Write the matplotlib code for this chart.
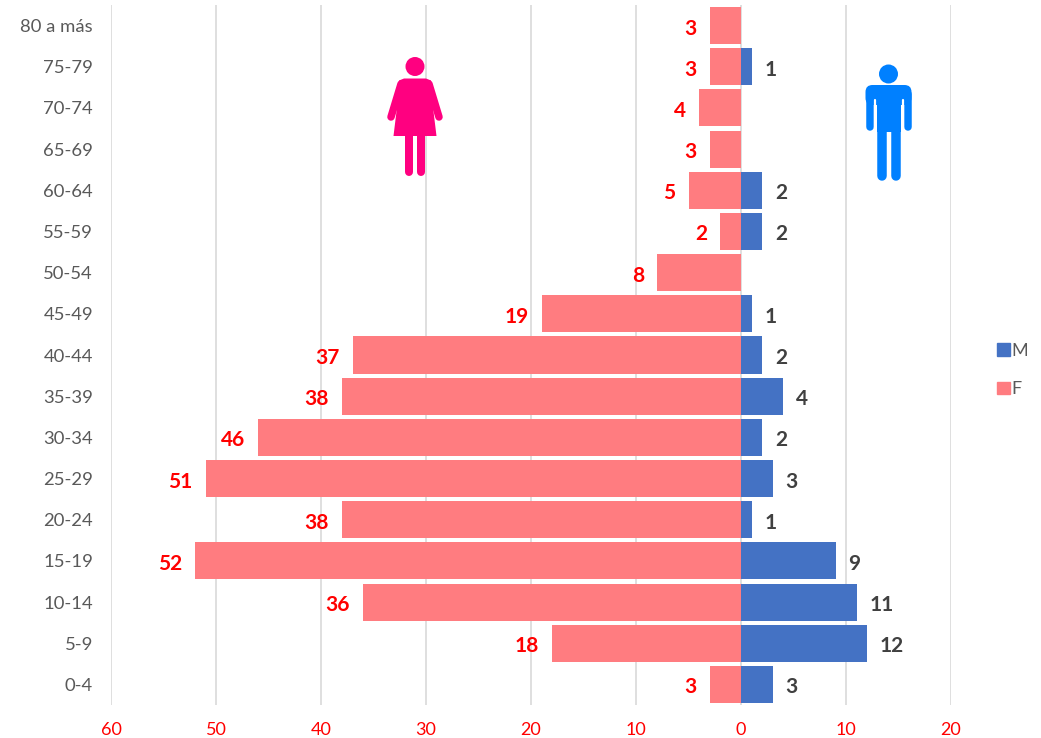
import matplotlib
matplotlib.use("Agg")
import matplotlib.pyplot as plt
from matplotlib.patches import Circle, Polygon, Patch, FancyBboxPatch

W, H = 1041, 738

grupos = ["0-4", "5-9", "10-14", "15-19", "20-24", "25-29", "30-34", "35-39", "40-44",
          "45-49", "50-54", "55-59", "60-64", "65-69", "70-74", "75-79", "80 a más"]
mujeres = [3, 18, 36, 52, 38, 51, 46, 38, 37, 19, 8, 2, 5, 3, 4, 3, 3]
hombres = [3, 12, 11, 9, 1, 3, 2, 4, 2, 1, 0, 2, 2, 0, 0, 1, 0]
x_ticks = [-60, -50, -40, -30, -20, -10, 0, 10, 20]
x_labels = ["60", "50", "40", "30", "20", "10", "0", "10", "20"]

color_f = "#ff7c80"
color_m = "#4472c4"
gris = "#595959"
rojo = "#ff0000"

plt.rcParams["font.family"] = ["Lato", "DejaVu Sans"]

fig = plt.figure(figsize=(W / 100, H / 100), dpi=100)
ax = fig.add_axes([111 / W, 1 - 705 / H, (951 - 111) / W, (705 - 5) / H])

ax.barh(grupos, [-v for v in mujeres], height=0.9, color=color_f, zorder=3)
ax.barh(grupos, hombres, height=0.9, color=color_m, zorder=3)

ax.set_xlim(-60, 20)
ax.set_ylim(-0.5, 16.5)
ax.set_xticks(x_ticks)
ax.set_xticklabels(x_labels, color=rojo, fontsize=13)
ax.tick_params(axis="x", length=0, pad=12)
ax.tick_params(axis="y", length=0, pad=13, labelsize=13.3, labelcolor=gris)
ax.grid(axis="x", color="#d9d9d9", linewidth=1.2, zorder=0)
for s in ax.spines.values():
    s.set_visible(False)

for i, v in enumerate(mujeres):
    ax.annotate(str(v), (-v, i), xytext=(-13, -3), textcoords="offset pixels",
                ha="right", va="center", color=rojo, fontsize=15, fontweight="bold")
for i, v in enumerate(hombres):
    if v > 0:
        ax.annotate(str(v), (v, i), xytext=(13, -3), textcoords="offset pixels",
                    ha="left", va="center", color="#404040", fontsize=15, fontweight="bold")

fig.legend(handles=[Patch(color=color_m, label="M"), Patch(color=color_f, label="F")],
           loc="center left", bbox_to_anchor=(981 / W, 1 - 370 / H), frameon=False,
           handlelength=0.68, handleheight=0.68, handletextpad=0.1, labelspacing=1.25,
           fontsize=13, labelcolor=gris)

# iconos en pixeles de la figura
ic = fig.add_axes([0, 0, 1, 1], facecolor="none")
ic.set_xlim(0, W)
ic.set_ylim(H, 0)
ic.axis("off")

def palo(xs, ys, ancho, color):
    ic.plot(xs, ys, color=color, linewidth=ancho * 0.72, solid_capstyle="round", solid_joinstyle="round")

rosa = "#ff0080"
ic.add_patch(Circle((415, 66.5), 9.5, color=rosa, lw=0))
ic.add_patch(Polygon([(404, 78.5), (426, 78.5), (431, 80.5), (431, 91), (436.5, 136),
                      (393.5, 136), (399, 91), (399, 80.5)], color=rosa, lw=0))
palo([401, 391], [84, 117], 7.5, rosa)
palo([429, 439], [84, 117], 7.5, rosa)
palo([408.5, 408.5], [135, 171.5], 8, rosa)
palo([421, 421], [135, 171.5], 8, rosa)

azul = "#0080ff"
ic.add_patch(Circle((888.5, 74), 9.5, color=azul, lw=0))
ic.add_patch(FancyBboxPatch((865.5, 85), 46, 20, boxstyle="round,pad=0,rounding_size=7", color=azul, lw=0))
ic.add_patch(Polygon([(876.5, 95), (901, 95), (901, 132), (876.5, 132)], color=azul, lw=0))
palo([869.5, 869.5], [94, 127], 7.5, azul)
palo([908, 908], [94, 127], 7.5, azul)
# hueco entre brazo y torso
palo([874.5, 874.5], [100, 128], 2.2, "white")
palo([902.5, 902.5], [100, 128], 2.2, "white")
palo([881.5, 881.5], [125, 176], 9.5, azul)
palo([895.5, 895.5], [125, 176], 9.5, azul)

fig.savefig("out.png", dpi=100)
